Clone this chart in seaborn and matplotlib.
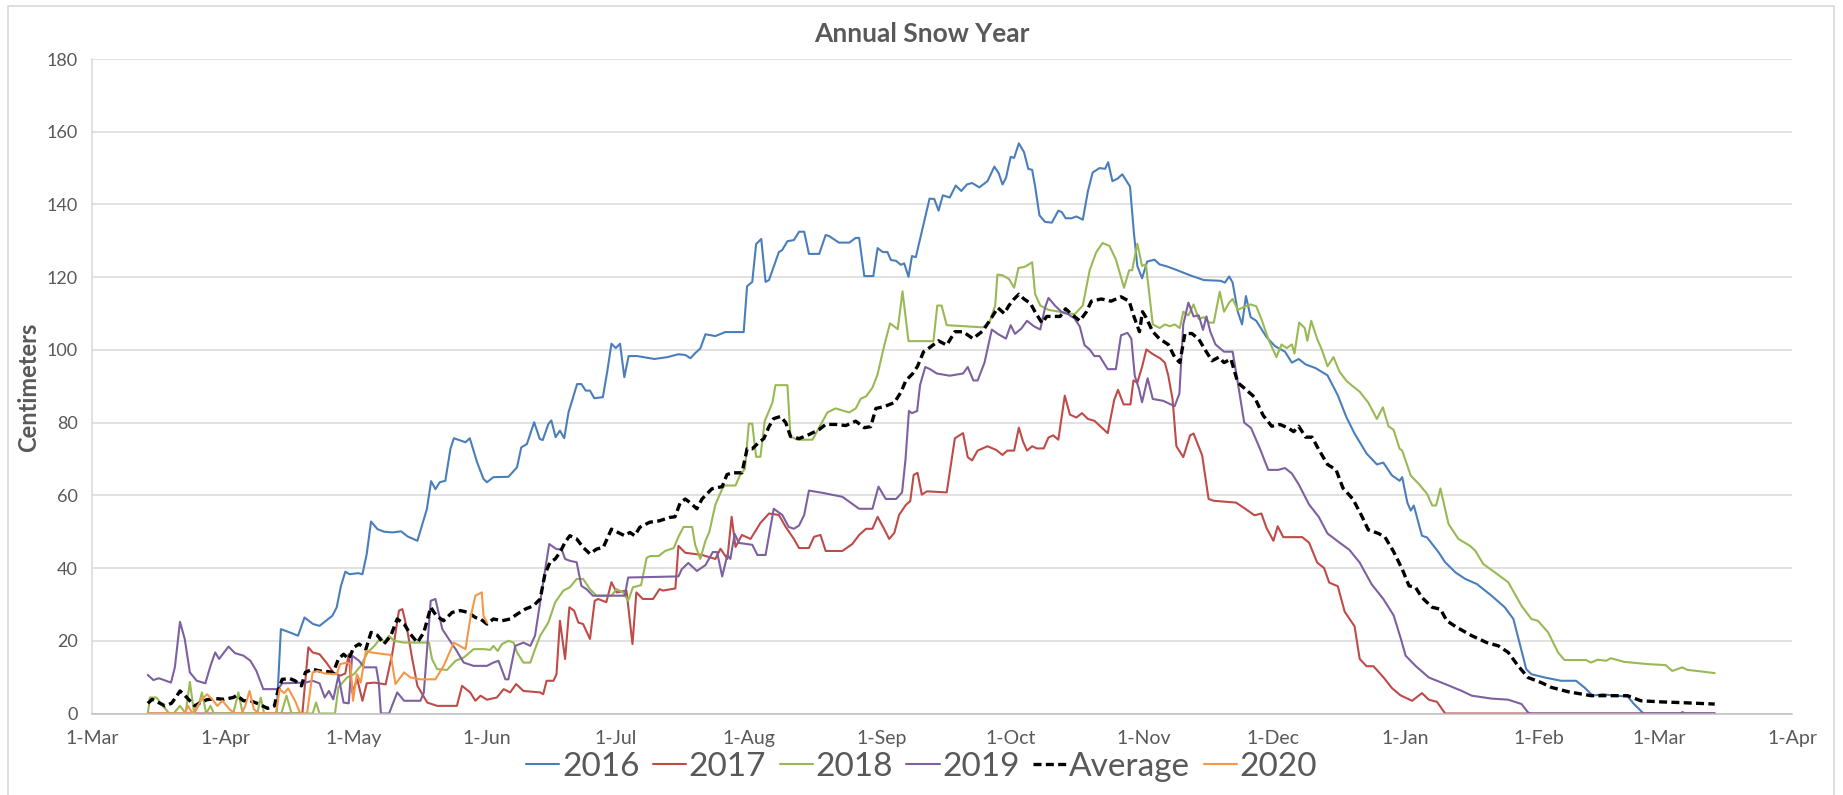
import numpy as np
import pandas as pd
import matplotlib
matplotlib.use("Agg")
import matplotlib.pyplot as plt
import matplotlib.dates as mdates
from matplotlib.ticker import FuncFormatter, MultipleLocator
from matplotlib.patches import Rectangle
import seaborn as sns

# ---------------- data (days after 1-Mar of the season start, centimeters) -------------
season_start = "2018-03-01"

days_2016 = [43,44,46.5,48,49.5,51.5,53,54.5,56,57,58,59,60,62,63,64,65,66.5,68,70,72,73.5,75.8,78,79,80,81,82.3,83.5,84.3,87,88,89.7,91.2,92,93.5,97,99,100,101.3,103,104.3,105,106.3,107,108,109,110,111,113,114,115,116,117,119,120,121,122,123,124,125,127,131,134,136.6,138.2,139.4,140.5,141.7,142.9,145.2,147.5,151.8,152.6,153.8,154.7,155.9,156.9,157.7,160,160.8,162,163.5,164.7,165.9,167,169.4,170.9,171.7,174,176.4,177.9,178.7,179.9,182,183,184.2,185.3,186.1,187.3,188.4,189.2,190.2,191,191.9,193.6,195.1,196.2,197.2,198.2,199.8,201.2,202.5,203.8,205,206.7,208.6,210.2,211.2,212.1,212.9,214,214.8,215.9,217.1,218.1,219,219.7,220.7,222,223.6,225.1,225.9,226.8,228.2,229.3,230.8,232,233.1,234.7,236,236.7,237.7,238.9,240,241.8,242.7,243.5,244.6,245.8,247.5,248.7,250.3,252.6,255.8,259,262.9,263.9,264.9,265.7,266.9,267.9,268.8,269.9,271.2,273.6,275.6,277.9,279.5,281.1,282.7,285,287.8,290.2,292.2,294.1,296.9,299.3,300.8,302.8,304.6,305.2,306.4,307.2,307.9,309.8,311,313.7,315.2,317.6,319.9,322.6,326,329.1,331.1,332.6,334.1,335.3,338.4,342.2,345.7,347.6,349.6,351.9,354.6,357.7,359.2,361.4,378]
cm_2016 = [0,23.2,22.1,21.4,26.4,24.6,24.1,25.5,26.9,29.2,35.1,39,38.3,38.6,38.3,43.9,52.8,50.7,50,49.8,50.1,48.7,47.5,56.2,63.9,61.7,63.6,64,72.8,75.7,74.6,75.7,69.1,64.5,63.6,65,65.1,67.7,73.2,74.1,80.1,75.5,75.2,79.6,80.6,76,77.8,75.7,82.8,90.6,90.6,88.8,88.8,86.7,87,93.9,101.7,100.5,101.7,92.5,98.3,98.3,97.5,98,98.8,98.6,97.7,99.1,100.4,104.3,103.8,104.9,104.9,117.5,118.7,129.1,130.5,118.7,119.2,126.9,127.5,129.9,130.2,132.5,132.5,126.4,126.4,131.6,131.3,129.5,129.5,130.8,130.8,120.3,120.3,128,126.9,126.9,124.7,124.5,123.4,123.8,120.1,125.8,125.5,134,141.6,141.5,138.3,142.5,141.9,145.2,143.7,145.5,145.9,144.7,146.4,150.4,148.6,145.5,147.3,153.1,152.8,156.8,154.4,149.8,149.5,144.9,137,135.2,135,138.3,137.9,136.2,136.2,136.7,135.8,143.7,148.8,150,149.8,151.6,146.4,147.1,148.3,144.9,132.2,123.1,119.7,124.3,124.8,123.5,123,122,120.5,119.2,119,118.5,120.2,118.5,110.5,107,114.8,109,108,103.5,101,99.5,96.5,97.5,96,95,93,87.5,81.5,77,71.5,68.5,69,65.5,64,65,58,55.8,57.2,48.9,48.4,44.3,41.6,38.8,37,35.6,32.4,29.2,26,19.1,12.2,10.8,9.9,9,9,7.2,4.9,5.3,4.9,4.7,2.6,0,0]

days_2017 = [13,49,50.4,51.4,53,54.6,56.2,57.8,59,59.8,60.6,61.8,63,64,65.8,68.4,70,71.5,72.3,73.4,74.6,75.8,78.1,80.4,85,86.2,88.1,89.3,90.5,92,94.3,95.9,97.4,98.8,100.5,104.4,105.1,105.9,107.5,108.2,109,110.2,111.2,112.3,113.3,114.4,116,117.1,117.9,119.8,121,122.2,124.5,125.9,126.8,128.3,130.7,132.2,133,135.9,136.6,138.2,142.1,145.2,146.4,148,149,149.9,151.4,153.4,155.7,157.7,160,161.6,163.5,164.7,167,168.2,169.7,170.9,174.8,177.1,178.7,180.3,181.8,183,184.5,185.7,186.9,188,189.6,190.6,191.4,192.3,193.3,194.5,199.1,201,202.9,204,205,206.3,208.6,210.6,212.1,213.2,214.8,215.9,216.9,217.8,219,220.1,221.7,222.8,223.9,225.1,226.6,227.8,229.3,230.6,232,233.5,236.6,238.1,239,240.3,241.9,242.6,243.5,244.6,245.6,247.3,248.8,249.9,250.7,251.7,252.6,254.2,255.8,256.6,258.6,260.1,261.3,266.5,268.4,270.8,272.4,273.6,275.2,276.2,277.5,281.9,283.5,285.4,287,288.2,290.2,291.8,294.1,295.3,296.9,298.5,300.8,302.8,304.8,307.5,309.8,311.4,313.3,315.2,378]
cm_2017 = [0,0,18.2,16.8,16.3,14,11.3,10.4,11,16.3,5.8,9.4,3.5,8.3,8.5,8,16.8,28.3,28.7,23.2,15,7.6,3,2.1,2.1,7.6,5.8,3.5,4.9,3.8,4.4,6.7,5.8,8.1,6.2,5.8,5.3,9,9,10.8,25.5,15,29.2,28.3,25,24.6,20.5,31,31.5,30.6,36.1,33.3,33.8,19.1,33.3,31.5,31.5,34.2,33.8,34.4,46.1,44.2,43.6,42.5,45.3,42.5,54.1,45.8,49.1,48,52.4,55,54.6,51.3,48,45.5,45.5,48.6,49.1,44.7,44.7,46.6,49.1,50.8,50.8,54.1,50.8,48,49.7,54.6,57.4,58.4,65.6,66.2,60.2,61.1,60.8,75.7,77.1,70.5,69.6,72.3,73.5,72.5,71.1,72.3,72.3,78.6,74.7,72.3,73.5,72.9,72.9,75.9,76.5,75.3,87.4,82.2,81.4,82.6,81,80.5,77.1,86.2,89,85,85,91.6,91,95.3,100.1,98.7,97.7,96.5,93,86.5,73.5,70.5,76.5,77,71,59,58.5,58,56.5,54.5,55,51,47.5,51.5,48.5,48.5,47,41.5,40,36,35,28,24,15,13,13,10,7,5,3.5,5.6,3.8,3.2,0,0]

days_2018 = [13,13.5,15,16.5,18,19,20.5,21.8,22.8,23.8,24.8,25.6,26.6,27.6,28.4,32.9,34.1,35.1,38.5,39.3,40.1,44.1,45.3,46.5,51.4,52.2,53,56.6,57.4,59.4,61,62.6,64.2,65.8,67.3,68,69.2,70.3,72.7,78.5,79.2,80.4,82.7,84.7,86.6,88.9,91.2,92.8,93.5,94.5,95.5,97,98.2,99,100.5,102.1,103.2,104.4,106.3,107.9,109.8,111.3,112.9,114.4,116,117.5,121,122.2,123.7,124.9,126,127.9,129.2,130,132,133.5,135.5,136.6,137.8,139.8,140.5,141.7,142.9,143.8,145.2,146.8,147.4,149.9,151,152.1,153,153.8,154.7,155.7,156.7,158.5,159.2,162,162.7,164.3,167.8,169,171.3,173.2,176.4,177.9,179.1,180.3,181.8,183,184.5,185.9,187.7,188.8,190.2,196,196.9,197.9,199.1,207.5,209,210.4,210.9,212.1,213.6,214.8,215.8,217.4,219,219.7,220.9,222.8,225.9,228.9,230.8,232.4,233.9,235.4,237,238.5,240.4,241.6,242.3,243.5,244.6,245.5,247.1,248.7,249.9,251.1,252.2,253.4,254.2,255.4,256.6,257.8,259,260.2,261.3,262.7,263.7,264.9,265.7,266.9,268.3,269.9,271.2,272.4,274,275.9,277.1,278.3,279.5,280.1,281.2,282.5,283.1,284,285.4,286.5,287.8,289.2,290.6,292.2,293.7,295.3,297.3,299.3,300.7,302,303.2,304.6,305.2,307.2,309.1,311,312.2,313.1,314.1,316,318.3,321,322.2,324.1,326.8,329.9,333,335.3,336.8,339.2,341.5,343,348,349.2,350.7,352.7,353.8,356.9,362.3,366.6,368.1,369.3,370.4,371.6,373.9,378]
cm_2018 = [0,4.4,4.4,2.1,0,0,2.1,0,8.7,0,2.1,5.8,0,2.1,0,0,5.8,0,0,4.4,0,0,4.9,0,0,3,0,0,7.2,9.9,10.8,13.1,16.8,18.6,20.9,19.5,21.4,20,19.5,19.5,15,12.2,12,14.5,15.4,17.7,17.7,17.5,18.6,17.2,19.1,20,19.5,16.8,14,14,17.7,21.4,25,30.6,33.8,34.7,37,37,34.2,32.4,32.4,34.2,33.3,31,34.7,35.3,42.8,43.3,43.3,44.7,45.5,48.6,51.3,51.3,46.4,42.5,47.5,49.9,57.4,61.8,62.7,62.7,65.7,67.3,79.7,79.7,70.6,70.6,80.4,85.5,90.3,90.3,76.2,75.3,75.3,77.8,82.8,83.9,82.8,83.9,86.6,87.2,89.6,93.3,101,107.3,105.7,116.1,102.4,102.4,112.2,112.2,106.8,106.2,107.4,112.2,120.7,120.5,119.5,117.1,122.5,122.9,124.1,115.3,112.2,111,110.4,109.8,112.2,121.9,126.8,129.4,128.6,124.9,117.1,121.9,121.9,129.2,123.1,123.5,107,106,107,106.5,107,106,110.5,109.5,112.5,108.5,109,107.5,107.5,116,110.5,113,114,111,111.8,112.5,112,108.5,103,98,101.5,100.5,101.5,99,107.5,106,102.5,108,103,100,95.5,98,94,91.5,90,88.5,85.5,81,84.2,79,78,72.8,72.3,65.4,63.1,60.4,57.2,57.2,61.9,52.1,48,46.1,44.8,41.1,38.8,36.1,29.6,26,25.5,22.3,16.8,14.7,14.7,14,14.8,14.5,15.2,14.2,13.6,13.3,11.7,12.2,12.7,12,11.7,11.1]

days_2019 = [13,14.3,15.6,18.4,19.3,20.5,21.6,22.8,24.4,26.4,27.6,28.7,29.6,31.8,33.3,35.3,36.9,38.3,39.9,43.3,44.3,49.7,51.4,53,54.2,55.2,56.2,57.4,58.6,59.8,60.6,62.2,63.4,66.2,66.8,67.3,69.2,71.1,72.7,76.5,77.3,78.9,80,81.6,83.1,84.7,86.6,88.9,92,93.5,94.7,96.3,97,98.6,100.5,102.1,103.2,105.1,106.5,108.2,109.4,110.2,111.3,112.9,114,115.2,116.7,124.1,124.9,136.6,137.4,138.9,140.9,142.9,144.6,145.6,146.8,148,148.7,149.7,150.7,153.8,155,156.9,158.8,160.8,162.3,163.5,164.7,165.9,167,170.1,174.8,178.7,181.8,183.2,184.9,187.3,188.7,189.5,190.3,191,192.2,192.9,194.1,195.2,196.8,199.8,202.9,204,205.3,206.3,207.9,209.6,211,212.9,214,215,216.5,217.8,219.4,220.9,222,222.8,224.3,225.9,227.4,228.9,230.1,231.2,232.4,233.5,234.7,236.6,238.5,239.7,241.2,242.1,242.9,243.9,244.6,245.9,247.1,249.5,252.2,253.3,254.2,255.4,256.6,257.8,258.8,259.6,260.5,261.7,263.7,265.7,266.9,268.4,270,272,274,276.3,277.9,279.5,281.1,283.5,285.8,287.8,290.6,292.9,295.3,298.1,300.8,303.2,304.9,306,308.3,311.4,315.2,319.1,321.4,326,329.9,333,334.5,335,370,370.5,371,378]
cm_2019 = [10.6,9.2,9.7,8.5,12.7,25.2,20.5,11.3,9,8.3,13.1,16.8,15,18.4,16.6,15.9,14.5,11.7,6.7,6.7,8.3,8.5,9,8.3,4.4,6.2,3.9,10.4,3,2.8,15.9,14.5,12.7,12.7,8.5,0,0,5.8,3.5,3.5,5.8,31,31.5,23.2,20.5,17.7,14,13.1,13.1,14,14.5,9.4,9.4,18.6,19.5,18.6,21.4,36.1,46.6,45.2,45.2,42.5,42,41.6,35.1,34.2,32.4,32.4,37.4,37.7,39.7,41.4,39.2,40.8,44.4,44.4,37.7,43.6,42.5,49.4,46.9,46.4,43.6,43.6,56.3,54.6,51.3,50.8,51.7,54.6,61.3,60.7,59.6,56.3,56.3,62.4,59,59,60.8,69.9,83.2,82.6,83.2,90.4,95.3,94.7,93.5,92.9,93.5,95.3,91.6,91.6,96.5,105.6,104.4,103.1,106.8,104.4,105.9,108,106.5,105.6,111.6,114.3,112.2,110.4,109.8,108.6,106.4,101.3,100.1,98.3,98.3,94.7,94.7,104,104.7,103.1,92.9,89.2,85.6,92.2,86.5,86,84.5,88,107,113,109.2,109.5,105.5,109.2,105,101.5,99.5,99.5,91,80,78.5,73,67,67,67.5,66,63,57.5,54,49.5,47,45,41.5,35.5,31.5,27,20.5,15.9,13.1,9.9,8.1,6.2,4.9,4.1,3.8,2.6,0.3,0,0,0.4,0,0]

days_avg = [13,14,15.5,17,18.5,19.5,20.5,21.6,22.8,24,25.2,26.8,28.8,30.8,32.9,33.7,35.3,36.9,38.9,40.9,42.5,43.3,44.3,46.1,47.3,48.8,49.7,51.4,53,55,56.2,57.4,58.6,59.8,61,62.2,63.8,65,66.5,68,69.6,71.1,72.7,74.2,75.8,77.3,78.9,80.2,81.9,83.9,85.8,87.7,89.3,90.5,92,93.5,95.5,97.4,99,100.9,102.8,104.4,105.5,106.7,107.9,109,110.2,111.3,112.9,114.4,116,117.5,119.1,121,122.5,124.1,125.3,126.4,127.6,129.9,132.2,134.5,135.8,137,138.2,139.4,140.9,142.1,144.4,146.8,147.9,149.1,151.4,152.6,153.8,155.3,156.5,157.7,158.8,160.4,161.6,162.7,164.7,167,169.4,170.9,173.2,175.6,177.9,179.9,181.4,182.6,184.5,186.9,188.4,189.6,191.2,192.3,193.7,195.2,197.2,199.1,201,202.9,205.2,207.5,209.4,211,212.5,213.6,214.8,215.9,217.1,218.6,219.7,221.3,222.4,225.5,226.8,228.2,230.1,231.6,232.8,235.1,237.4,239.7,241.6,242.7,244,244.7,245.5,247.1,248.7,250.7,252.2,253.4,254.6,256.2,257.8,259.3,260.9,262.5,263.7,265.3,266.9,268.4,270.8,272.8,274.8,276.7,278.7,279.9,281.1,282.7,284.2,285.8,287.8,289.8,291.4,293.7,295.7,297.3,299.7,301.2,303.2,305.2,306.8,308.3,309.8,312.2,314.1,315.6,317.9,321.4,324.9,327.6,329.9,332.2,334.5,337.6,339.9,343.8,349.2,357.7,360.8,365.4,370,378]
cm_avg = [2.8,3.9,3,2.1,2.8,4.4,6.2,5,3.5,2.1,3,3.8,4.1,3.9,4.4,5,3.5,3.5,2.6,1.4,2.1,6.2,9.4,9.6,9,7.6,11.3,12.2,11.7,11.5,11.3,15,16.3,15,18.2,19.1,17.7,22.3,21.5,19.1,21.4,26,24.6,21.8,19.5,22.3,29.2,26.9,25.5,27.8,28.3,27.8,26.4,26,24.6,26,25.5,26,27.3,28.7,29.6,31.5,38.3,41.6,42.5,44.3,47.1,48.9,48,45.7,43.9,45.2,45.7,50.7,49.8,48.9,49.8,48.9,51.2,52.6,53,53.9,54.1,57.9,59,57.9,56.3,59,61.8,62.4,65.7,66.2,66.2,72.8,72.8,74.5,75.6,78.9,81.1,81.7,80,76.2,75.6,76.7,78.1,79.5,79.5,79.2,80.4,78.6,78.9,83.9,84.4,85.5,88.3,91.6,93.5,95.5,99.5,100.7,102.5,101.3,105,105,103.1,105.2,108.6,111.6,110,112.2,114,115.3,114,112.8,110.4,107.4,109.2,109.2,111.3,109.8,108,110.4,113.4,114,113.4,114.6,113.4,109.2,105,110.5,109,105,103,101.5,98,96.5,104.5,104.5,103,100,97,98,96.5,97.5,91,89.5,87,82,79,79.5,78.5,77.5,79,76,76,72.5,68.5,67,62,59,54.5,50.5,49.5,48.5,44.5,39.7,35.1,34.7,31.9,29.2,28.7,25.5,23.7,21.4,19.5,18.6,16.8,13.1,9.9,8.5,7.2,6,4.9,4.9,3.5,3.2,3,2.6]

days_2020 = [13,21.6,22.4,23.4,24.4,25.6,26.8,28,29.2,30.4,32,33.3,34.9,35.7,36.7,37.7,38.9,42.9,43.7,44.8,45.7,47.3,48.5,50.1,51.4,52.6,54.2,57,57.8,59.4,60.2,60.8,61.7,62.6,63.8,65,69.6,70.7,72.7,74.2,76.5,80,81.9,84.3,87,88.1,89.3,90.8,91.2,92]
cm_2020 = [0,0,2.1,0,1.7,3.9,5.3,3.9,2.1,3.5,1.2,0,0,2.1,6.2,1.2,0,0,6.7,5.6,6.9,3.5,0,0,11.3,11.7,11,10.8,13.6,14,13.6,3.5,10.8,8.5,17.2,16.8,16.1,8.1,11.3,9.9,9.4,9.4,13.1,19.5,17.7,26,32.4,33.3,26.9,25]

series_names = ["2016", "2017", "2018", "2019", "Average", "2020"]
series_colors = ["#4A7EBB", "#BE4B48", "#98B954", "#7D60A0", "#000000", "#F79646"]

title_text = "Annual Snow Year"
ylabel_text = "Centimeters"

# ---------------- build ---------------------------------------------------------------
sns.set_style("white")
plt.rcParams["font.family"] = ["Lato", "DejaVu Sans"]

base = pd.Timestamp(season_start)
def to_dates(days):
    return base + pd.to_timedelta(np.asarray(days, dtype=float), unit="D")

data = {
    "2016": (days_2016, cm_2016),
    "2017": (days_2017, cm_2017),
    "2018": (days_2018, cm_2018),
    "2019": (days_2019, cm_2019),
    "Average": (days_avg, cm_avg),
    "2020": (days_2020, cm_2020),
}

W, H = 1843, 795
fig = plt.figure(figsize=(W / 100, H / 100), dpi=100)
ax = fig.add_axes([92 / W, 1 - 713.5 / H, (1792 - 92) / W, (713.5 - 59) / H])

grey_text = "#595959"
for name, color in zip(series_names, series_colors):
    d, v = data[name]
    df = pd.DataFrame({"date": to_dates(d), "cm": v})
    if name == "Average":
        sns.lineplot(data=df, x="date", y="cm", ax=ax, color=color, linewidth=2.4,
                     linestyle=(0, (2.4, 1.3)), label=name, sort=False, estimator=None)
    else:
        sns.lineplot(data=df, x="date", y="cm", ax=ax, color=color, linewidth=1.5,
                     label=name, sort=False, estimator=None)

ax.set_xlim(base, base + pd.Timedelta(days=396))
ax.set_ylim(0, 180)
ax.yaxis.set_major_locator(MultipleLocator(20))
ax.xaxis.set_major_locator(mdates.MonthLocator(bymonthday=1))
ax.xaxis.set_major_formatter(FuncFormatter(
    lambda x, pos: f"{mdates.num2date(x).day}-{mdates.num2date(x).strftime('%b')}"))

ax.grid(axis="y", color="#D9D9D9", linewidth=1.1)
ax.grid(axis="x", visible=False)
for s in ["top", "right"]:
    ax.spines[s].set_visible(False)
ax.spines["left"].set_color("#D9D9D9")
ax.spines["bottom"].set_color("#BFBFBF")
ax.spines["left"].set_linewidth(1.1)
ax.spines["bottom"].set_linewidth(1.1)
ax.tick_params(axis="y", length=0, labelsize=13, colors=grey_text, pad=10)
ax.tick_params(axis="x", length=0, labelsize=14, colors=grey_text, pad=12)

ax.set_xlabel("")
ax.set_ylabel("")
fig.text(29 / W, 1 - 387 / H, ylabel_text, rotation=90, ha="center", va="center",
         fontsize=17, fontweight="bold", color=grey_text)
fig.text(0.5, 1 - 34 / H, title_text, ha="center", va="center", fontsize=19,
         fontweight="bold", color=grey_text)

handles, labels = ax.get_legend_handles_labels()
if ax.get_legend():
    ax.get_legend().remove()
leg = fig.legend(handles, labels, loc="center", bbox_to_anchor=(0.5, 1 - 767 / H),
                 ncol=6, frameon=False, fontsize=24, handlelength=1.0,
                 handletextpad=0.08, columnspacing=0.4, labelcolor=grey_text)

fig.patches.append(Rectangle((8 / W, -0.01), (1834 - 8) / W, 1.01 - 6 / H,
                             transform=fig.transFigure, fill=False,
                             edgecolor="#D9D9D9", linewidth=1.2))

fig.savefig("out.png", dpi=100)
